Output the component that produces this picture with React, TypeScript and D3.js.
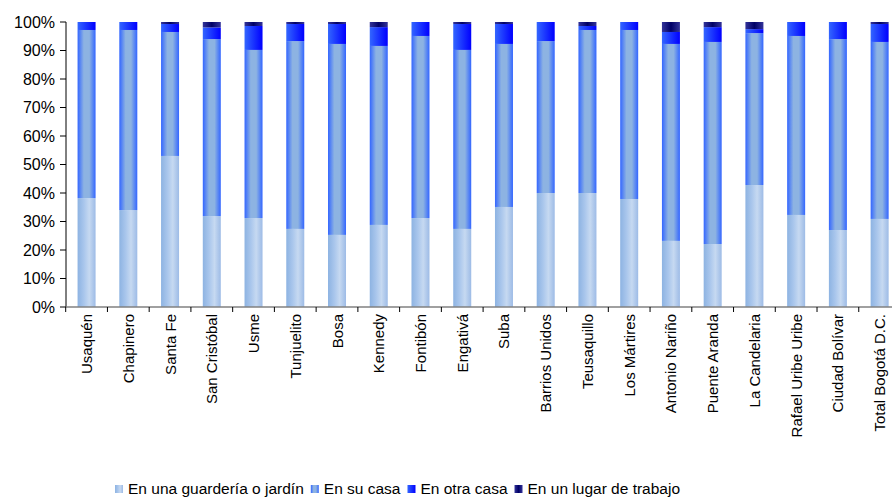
import React, { useLayoutEffect, useRef, useState } from "react";
import * as d3 from "d3";

const categories = [
  "Usaquén", "Chapinero", "Santa Fe", "San Cristóbal", "Usme", "Tunjuelito", "Bosa",
  "Kennedy", "Fontibón", "Engativá", "Suba", "Barrios Unidos", "Teusaquillo",
  "Los Mártires", "Antonio Nariño", "Puente Aranda", "La Candelaria",
  "Rafael Uribe Uribe", "Ciudad Bolívar", "Total Bogotá D.C.",
];

const seriesNames = [
  "En una guardería o jardín",
  "En su casa",
  "En otra casa",
  "En un lugar de trabajo",
];

const guarderia = [38.2, 34.0, 53.0, 31.9, 31.2, 27.4, 25.3, 28.8, 31.2, 27.4, 35.1, 40.0, 40.0, 37.9, 23.2, 22.1, 42.8, 32.3, 27.0, 30.9];
const suCasa = [59.0, 63.2, 43.5, 62.1, 59.0, 65.9, 67.0, 62.8, 63.9, 62.8, 57.2, 53.3, 57.2, 59.3, 69.1, 70.9, 53.3, 62.8, 67.0, 62.1];
const otraCasa = [2.8, 2.8, 2.8, 4.1, 8.4, 6.0, 7.0, 6.6, 4.9, 9.1, 7.0, 6.7, 1.4, 2.8, 4.2, 5.2, 1.4, 4.9, 6.0, 6.3];
const trabajo = [0, 0, 0.7, 1.9, 1.4, 0.7, 0.7, 1.8, 0, 0.7, 0.7, 0, 1.4, 0, 3.5, 1.8, 2.5, 0, 0, 0.7];

const yTicks = [0, 10, 20, 30, 40, 50, 60, 70, 80, 90, 100];

const gradients = [
  [["0%", "#8db3e2"], ["35%", "#a9c6ec"], ["65%", "#c6d9f1"], ["100%", "#9dbbe6"]],
  [["0%", "#3366ff"], ["35%", "#8db3e2"], ["65%", "#8db3e2"], ["100%", "#3366ff"]],
  [["0%", "#3366ff"], ["100%", "#0000ff"]],
  [["0%", "#333399"], ["50%", "#000066"], ["100%", "#333399"]],
];

const FONT = "'Liberation Sans', Arial, sans-serif";
const LEGEND_FS = 15.5;

export default function App() {
  const W = 892, H = 499;
  const x = d3.scaleBand<string>().domain(categories).range([65.7, 900.5]).paddingInner(0).paddingOuter(0);
  const y = d3.scaleLinear().domain([0, 100]).range([307, 22]);
  const barW = 18;
  const rows = categories.map((c, i) => ({
    cat: c,
    g: guarderia[i], s: suCasa[i], o: otraCasa[i], t: trabajo[i],
  }));
  const stack = d3.stack<any>().keys(["g", "s", "o", "t"])(rows);

  const textRefs = useRef<(SVGTextElement | null)[]>([]);
  const [widths, setWidths] = useState<number[]>(seriesNames.map((n) => n.length * 7));
  useLayoutEffect(() => {
    const w = textRefs.current.map((t) => (t ? t.getComputedTextLength() : 0));
    if (w.some((v, i) => Math.abs(v - widths[i]) > 0.5)) setWidths(w);
  });

  const legendX: number[] = [];
  let cur = 115;
  widths.forEach((w) => {
    legendX.push(cur);
    cur += 8 + 5 + w + 7;
  });

  return (
    <svg width={W} height={H} style={{ position: "absolute", left: 0, top: 0, background: "#fff" }} fontFamily={FONT}>
      <defs>
        {gradients.map((stops, i) => (
          <linearGradient key={i} id={`grad${i}`} x1="0" x2="1" y1="0" y2="0">
            {stops.map(([off, col], j) => (
              <stop key={j} offset={off} stopColor={col} />
            ))}
          </linearGradient>
        ))}
      </defs>

      {stack.map((layer, si) => (
        <g key={si} fill={`url(#grad${si})`}>
          {layer.map((d, i) => {
            const h = y(d[0]) - y(d[1]);
            if (h <= 0) return null;
            const cx = (x(categories[i]) as number) + x.bandwidth() / 2;
            return <rect key={i} x={cx - barW / 2} y={y(d[1])} width={barW} height={h} />;
          })}
        </g>
      ))}

      {/* y axis */}
      <line x1={66} x2={66} y1={y(100)} y2={y(0)} stroke="#000" strokeWidth={1} />
      {yTicks.map((v) => (
        <g key={v}>
          <line x1={60} x2={66} y1={y(v)} y2={y(v)} stroke="#000" />
          <text x={55} y={y(v)} dy="0.36em" textAnchor="end" fontSize={16} fill="#000">{`${v}%`}</text>
        </g>
      ))}

      {/* x axis */}
      <line x1={66} x2={W} y1={307} y2={307} stroke="#808080" strokeWidth={1.5} />
      {d3.range(categories.length + 1).map((i) => {
        const xp = 65.7 + i * x.bandwidth();
        if (xp > W) return null;
        return <line key={i} x1={xp} x2={xp} y1={307} y2={312} stroke="#000" />;
      })}
      {categories.map((c) => {
        const cx = (x(c) as number) + x.bandwidth() / 2;
        return (
          <text key={c} transform={`translate(${cx + 5.5},314) rotate(-90)`} textAnchor="end" fontSize={15} fill="#000">
            {c}
          </text>
        );
      })}

      {/* legend */}
      {seriesNames.map((label, i) => (
        <g key={i}>
          <rect x={legendX[i]} y={485} width={8} height={8} fill={`url(#grad${i})`} />
          <text
            ref={(el) => { textRefs.current[i] = el; }}
            x={legendX[i] + 13}
            y={494}
            fontSize={LEGEND_FS}
            fill="#000"
          >
            {label}
          </text>
        </g>
      ))}
    </svg>
  );
}
